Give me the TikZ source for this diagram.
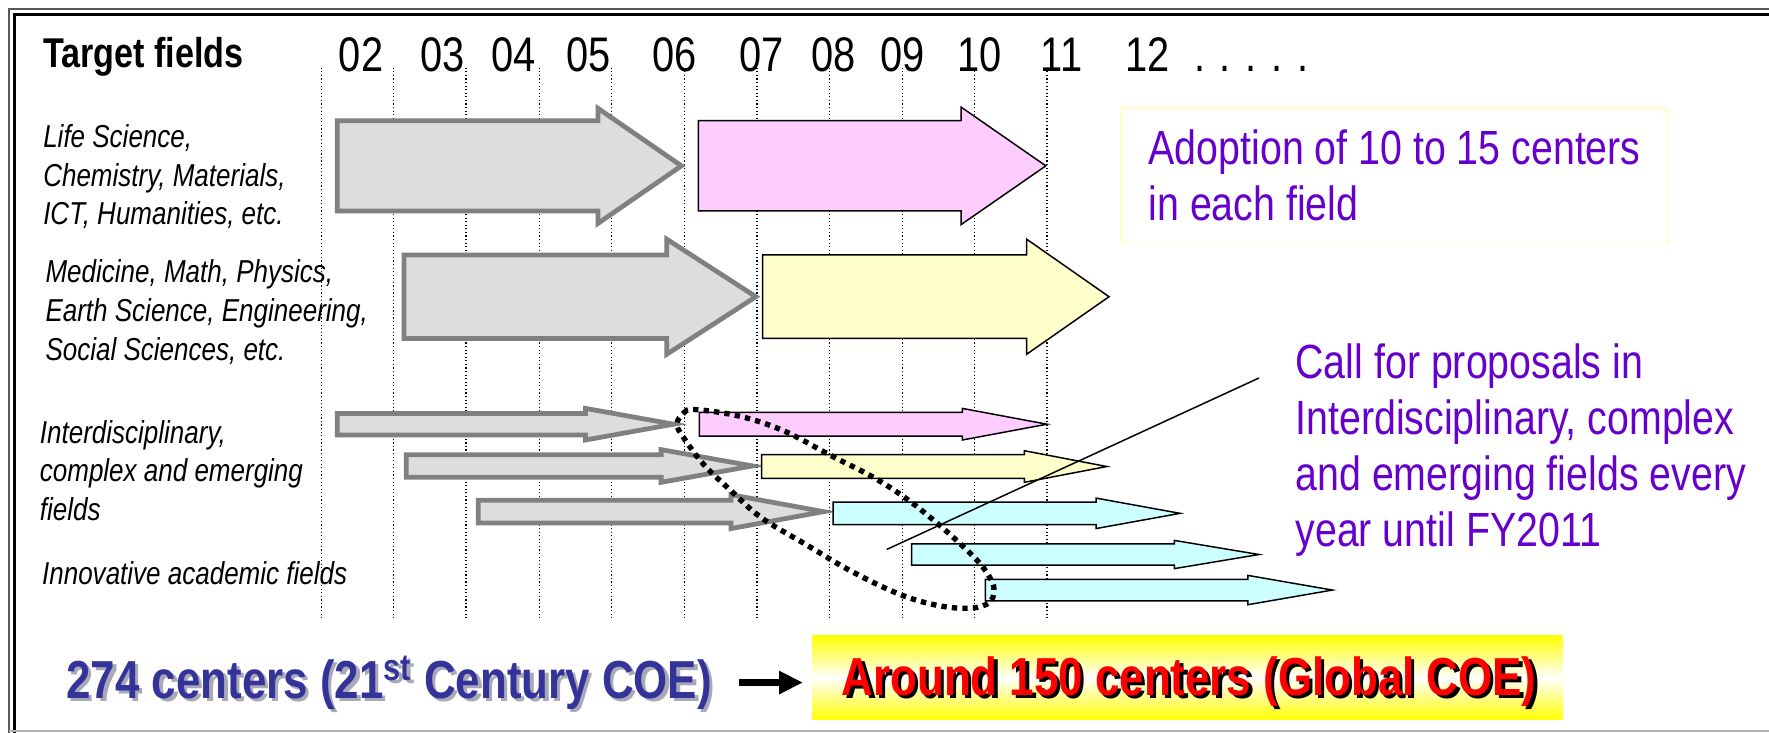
\documentclass[tikz,border=0pt]{standalone}
\usepackage{fontspec}
\setmainfont{Liberation Sans}[FakeStretch=0.82]
\usepackage{xcolor}
\usetikzlibrary{positioning}
\usetikzlibrary{arrows.meta}
\definecolor{barfill}{HTML}{DDDDDD}
\definecolor{barline}{HTML}{808080}
\definecolor{pinkfill}{HTML}{FFCCFF}
\definecolor{lemonfill}{HTML}{FFFFCC}
\definecolor{aquafill}{HTML}{CCFFFF}
\definecolor{violettxt}{HTML}{6600CC}
\definecolor{navytxt}{HTML}{333399}
\definecolor{navyshade}{HTML}{A8A8B8}

\begin{document}
\begin{tikzpicture}[x=0.02cm, y=-0.02cm,
  node distance = 3mm,
  title/.style = {font=\fontsize{21}{25}\selectfont\bfseries, inner sep=0pt, anchor=base west},
  yearlbl/.style = {font=\fontsize{24.5}{29}\selectfont, inner sep=0pt, anchor=base},
  field/.style = {font=\fontsize{16}{19.5}\selectfont\itshape, align=left,
  anchor=north west, inner sep=0pt},
  note/.style = {font=\fontsize{24.2}{28.3}\selectfont, text=violettxt, align=left,
  inner sep=0pt},
  yearline/.style = {line width=0.6pt, dash pattern=on 0.6pt off 1.2pt},
  oldbar/.style = {draw=barline, fill=barfill, line width=2.4pt, line join=miter},
  pinkbar/.style = {draw, fill=pinkfill, line width=0.75pt},
  lemonbar/.style = {draw, fill=lemonfill, line width=0.75pt},
  aquabar/.style = {draw, fill=aquafill, line width=0.75pt},
  loopdots/.style = {line width=2.7pt, dash pattern=on 2.7pt off 2.6pt},
  adoptbox/.style = {note, draw=lemonfill, line width=0.8pt, fill=white, anchor=north west,
  minimum width=9.7cm, minimum height=2.4cm},
  oldtxt/.style = {font=\fontsize{27}{32}\selectfont\bfseries, text=navytxt, inner sep=0pt},
  newtxt/.style = {font=\fontsize{27}{32}\selectfont\bfseries, text=red, inner sep=0pt},
  goldbox/.style = {top color=yellow, bottom color=yellow, middle color=white,
  minimum width=13.3cm, minimum height=1.5cm, inner sep=0pt},
  fatarrow/.style = {line width=3.6pt, -{Triangle[length=12pt, width=11pt]}}]

 \useasboundingbox (0,0) rectangle (1568,649.7);
 % frame
 \draw[gray!70!black, line width=1pt] (1568,8) -- (8,8) -- (8,650);
 \draw[line width=1.6pt] (1568,13) -- (13,13) -- (13,650);
 \draw[gray!60, line width=1.2pt] (8,648) -- (1568,648);

 % header and years
 \node[title] (tgt) at (38,60) {Target fields};
 \foreach \yr/\xx in {02/320, 03/392, 04/455, 05/522, 06/598, 07/675,
   08/739, 09/800, 10/868, 11/941, 12/1017}
   \node[yearlbl] (y\yr) at (\xx,63) {\yr};
 \node[yearlbl, anchor=base west] (ydots) at (1058,63) {. . . . .};
 \foreach \xx in {285,349,413,478,542,607,671,735,800,864,928}
   \draw[yearline] (\xx,60) -- (\xx,548);

 % field labels
 \node[field] (life) at (38,110) {Life Science,\\Chemistry, Materials,\\ICT, Humanities, etc.};
 \node[field] (med) at (40,230) {Medicine, Math, Physics,\\Earth Science, Engineering,\\Social Sciences, etc.};
 \node[field] (inter) at (35,372) {Interdisciplinary,\\complex and emerging\\fields};
 \node[field] (innov) at (37,497) {Innovative academic fields};

 % block arrows: start / head base / tip / middle / half body / half head
 \foreach \xa/\xh/\xt/\ym/\bh/\hh/\kind in {
   299/530/604/147/40/51/oldbar, 619/852/927/147/40/52/pinkbar,
   358/591/670/263/37/51/oldbar, 676/910/983/263/37/51/lemonbar,
   299/519/597/376/9.5/14/oldbar, 620/853/928/376/10.5/14/pinkbar,
   360/586/667/413/10/14.5/oldbar, 675/908/981/413.5/10.5/14/lemonbar,
   424/648/730/453.5/10/15/oldbar, 738.5/971.5/1046/455/10/13.5/aquabar,
   808/1041/1116/491.5/9.5/12.5/aquabar, 873.5/1106/1181/523/9.5/13/aquabar}
   \draw[\kind] (\xa,\ym-\bh) -- (\xh,\ym-\bh) -- (\xh,\ym-\hh) -- (\xt,\ym)
     -- (\xh,\ym+\hh) -- (\xh,\ym+\bh) -- (\xa,\ym+\bh) -- cycle;

 % loop round the new calls
 \draw[loopdots] plot[smooth cycle, tension=0.6] coordinates {(600,376) (606,366)
   (616,363) (656,369) (695,382) (735,403) (774,423) (802,441) (825,459) (849,480)
   (869,500) (879,515) (881,524) (877,534) (861,539) (833,537) (798,527) (754,506)
   (715,483) (675,459) (648,435) (624,412) (606,388)};

 % notes
 \node[adoptbox] (adopt) at (993,95) {Adoption of 10 to 15 centers\\in each field};
 \node[note, anchor=north west] (callfor) at (1148,304) {Call for proposals in\\Interdisciplinary, complex\\and emerging fields every\\year until FY2011};
 \coordinate (calltip) at (786,487);
 \coordinate (callroot) at (1116,335);
 \draw[line width=0.75pt] (calltip) -- (callroot);

 % bottom line
 \node[oldtxt, text=navyshade] at (348,608) {274 centers (21\textsuperscript{st} Century COE)};
 \node[oldtxt] (oldlbl) at (345,605) {274 centers (21\textsuperscript{st} Century COE)};
 \node[goldbox] (new) at (1052.5,600.5) {};
 \node[newtxt, text=black] at (1057,607) {Around 150 centers (Global COE)};
 \node[newtxt] (newlbl) at (1054,604) {Around 150 centers (Global COE)};
 \draw[fatarrow, shorten <=0.48cm, shorten >=0.16cm] (oldlbl.east) -- (oldlbl.east -| new.west);
\end{tikzpicture}
\end{document}
